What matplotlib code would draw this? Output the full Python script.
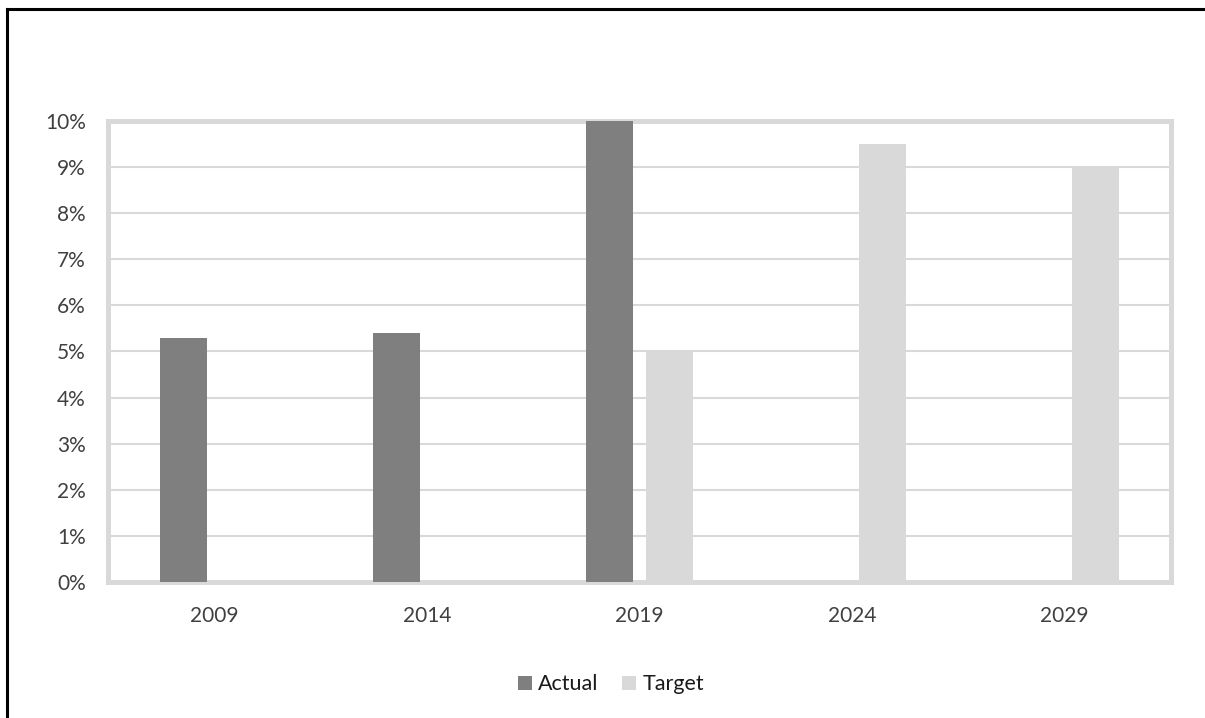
import matplotlib
matplotlib.use("Agg")
import matplotlib.pyplot as plt
import numpy as np
from matplotlib.lines import Line2D
from matplotlib.ticker import PercentFormatter

years = ["2009", "2014", "2019", "2024", "2029"]
actual = [0.053, 0.054, 0.100, np.nan, np.nan]
target = [np.nan, np.nan, 0.050, 0.095, 0.090]

plt.rcParams["font.family"] = ["Lato", "DejaVu Sans"]

fig = plt.figure(figsize=(12.05, 7.18), dpi=100)
ax = fig.add_axes([0.0896, 0.1894, 0.8822, 0.6421])

x = np.arange(len(years))
width = 0.221
offset = 0.143
ax.bar(x - offset, actual, width, color="#7f7f7f", label="Actual", zorder=3)
ax.bar(x + offset, target, width, color="#d9d9d9", label="Target", zorder=3)

ax.set_xlim(-0.5, len(years) - 0.5)
ax.set_ylim(0, 0.10)
ax.set_yticks(np.arange(0, 0.101, 0.01))
ax.yaxis.set_major_formatter(PercentFormatter(1.0, decimals=0))
ax.set_xticks(x)
ax.set_xticklabels(years)

ax.grid(axis="y", color="#d9d9d9", linewidth=1.5, zorder=0)
for side in ax.spines.values():
    side.set_color("#d9d9d9")
    side.set_linewidth(3.6)
ax.tick_params(axis="both", length=0, labelsize=15, labelcolor="#404040")
ax.tick_params(axis="x", pad=17)
ax.tick_params(axis="y", pad=16)

fig.legend(loc="center", bbox_to_anchor=(611 / 1205, 0.047), ncol=2,
           frameon=False, fontsize=15.5, handlelength=0.65, handleheight=0.65,
           handletextpad=0.3, columnspacing=1.1, labelcolor="#1a1a1a")

# outer chart frame (left and top edges)
fx, fy = 7 / 1205, 1 - 9 / 718
fig.add_artist(Line2D([fx, fx], [0, fy], color="black", linewidth=2.2))
fig.add_artist(Line2D([fx, 1.0], [fy, fy], color="black", linewidth=2.2))

fig.savefig("out.png", dpi=100)
